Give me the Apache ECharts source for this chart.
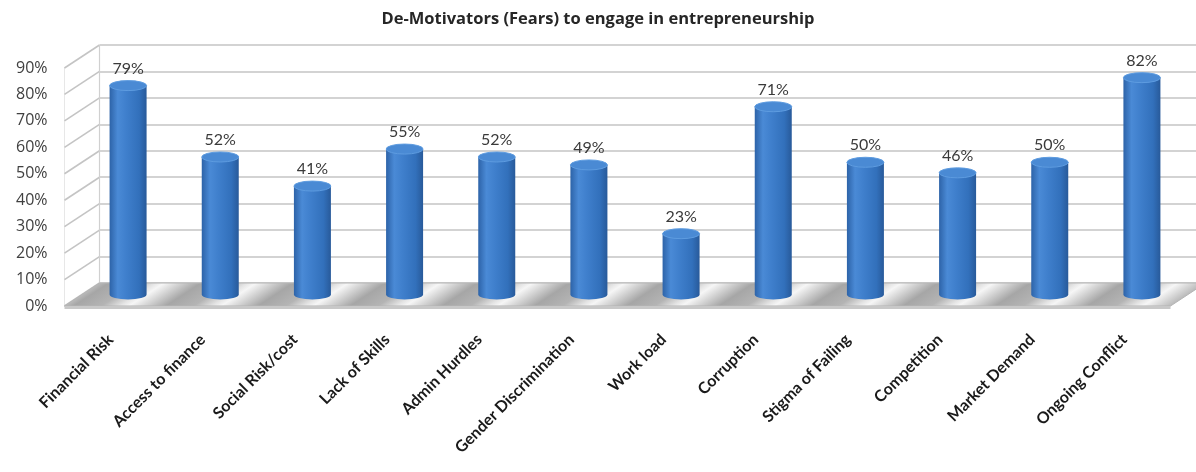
<!DOCTYPE html>
<html>
<head>
<meta charset="utf-8">
<script src="https://cdn.jsdelivr.net/npm/echarts@6/dist/echarts.min.js"></script>
<style>
  html, body { margin: 0; padding: 0; background: #ffffff; }
  #chart { width: 1196px; height: 472px; }
</style>
</head>
<body>
<div id="chart"></div>
<script>
// Survey results: share of respondents naming each fear
const categories = [
  'Financial Risk', 'Access to finance', 'Social Risk/cost', 'Lack of Skills',
  'Admin Hurdles', 'Gender Discrimination', 'Work load', 'Corruption',
  'Stigma of Failing', 'Competition', 'Market Demand', 'Ongoing Conflict'
];
const values = [79, 52, 41, 55, 52, 49, 23, 71, 50, 46, 50, 82];
const yMin = 0;
const yMax = 90;
const yStep = 10;
const titleText = 'De-Motivators (Fears) to engage in entrepreneurship';

// Pseudo-3D box: three parallel planes (front, middle, back)
const DEPTH_X = 35, DEPTH_Y = -23;
const PLOT_LEFT = 64.5, PLOT_WIDTH = 1106, FRONT_TOP = 68, PLOT_HEIGHT = 238;
const CYL_R = 18.5, CYL_RY = 5;
const FONT = 'Lato, "Open Sans", sans-serif';
const FONT_WIDE = '"Open Sans", Lato, sans-serif';

const chart = echarts.init(document.getElementById('chart'), null, { renderer: 'canvas' });

function plane(k) {
  return {
    left: PLOT_LEFT + DEPTH_X * k,
    top: FRONT_TOP + DEPTH_Y * k,
    width: PLOT_WIDTH,
    height: PLOT_HEIGHT,
    containLabel: false
  };
}

function valueAxis(gridIndex, extra) {
  return Object.assign({
    type: 'value', gridIndex, min: yMin, max: yMax, interval: yStep,
    axisLabel: { show: false }, axisTick: { show: false },
    axisLine: { show: false }, splitLine: { show: false }
  }, extra || {});
}

function catAxis(gridIndex, extra) {
  return Object.assign({
    type: 'category', gridIndex, data: categories,
    axisLabel: { show: false }, axisTick: { show: false },
    axisLine: { show: false }, splitLine: { show: false }
  }, extra || {});
}

// Floor stripes run along the depth direction, one light streak per category gap
function floorGradient(x0, y0, bandW) {
  const len = Math.hypot(DEPTH_X, DEPTH_Y);
  const nx = -DEPTH_Y / len, ny = DEPTH_X / len;
  const step = bandW * nx;               // projection of one band onto the normal
  const n = categories.length + 1;
  const L = step * n;
  const stops = [];
  for (let i = 0; i < n; i++) {
    const b = i / n, w = 1 / n;
    stops.push({ offset: b, color: '#f6f6f6' });
    stops.push({ offset: b + w * 0.12, color: '#dedede' });
    stops.push({ offset: b + w * 0.4, color: '#a6a6a6' });
    stops.push({ offset: b + w * 0.7, color: '#b4b4b4' });
    stops.push({ offset: b + w * 0.9, color: '#e4e4e4' });
  }
  stops.push({ offset: 1, color: '#f6f6f6' });
  return new echarts.graphic.LinearGradient(x0, y0, x0 + nx * L, y0 + ny * L, stops, true);
}

function renderBox(params, api) {
  const cs = params.coordSys;
  const gx = cs.x, gw = cs.width;
  const yf = v => api.coord([0, v])[1];
  const y0 = yf(yMin), yTop = yf(yMax);
  const children = [];

  // side wall
  children.push({
    type: 'polygon',
    shape: { points: [[gx, y0], [gx, yTop], [gx + DEPTH_X, yTop + DEPTH_Y], [gx + DEPTH_X, y0 + DEPTH_Y]] },
    style: { fill: '#ffffff', stroke: null }
  });
  for (let v = yMin; v <= yMax; v += yStep) {
    const y = yf(v);
    children.push({
      type: 'line',
      shape: { x1: gx, y1: y, x2: gx + DEPTH_X, y2: y + DEPTH_Y },
      style: { stroke: '#c4c4c4', lineWidth: 1.6 }
    });
  }
  children.push({
    type: 'line',
    shape: { x1: gx + DEPTH_X, y1: y0 + DEPTH_Y, x2: gx + DEPTH_X, y2: yTop + DEPTH_Y },
    style: { stroke: '#d0d0d0', lineWidth: 1.2 }
  });

  // floor
  const bandW = gw / categories.length;
  children.push({
    type: 'polygon',
    shape: { points: [[gx, y0], [gx + gw, y0], [gx + gw + DEPTH_X, y0 + DEPTH_Y], [gx + DEPTH_X, y0 + DEPTH_Y]] },
    style: { fill: floorGradient(gx + DEPTH_X / 2 - bandW * 0.3, y0 + DEPTH_Y / 2, bandW), stroke: '#b5b5b5', lineWidth: 1 }
  });
  // floor front face
  children.push({
    type: 'polygon',
    shape: { points: [[gx, y0], [gx + gw, y0], [gx + gw, y0 + 3], [gx, y0 + 3]] },
    style: { fill: '#c8c8c8' }
  });
  return { type: 'group', children };
}

function renderCylinder(params, api) {
  const idx = api.value(0);
  const val = api.value(1);
  const [x, yb] = api.coord([idx, yMin]);
  const yt = api.coord([idx, val])[1];
  const r = CYL_R, ry = CYL_RY;
  const body = `M${x - r},${yt} L${x - r},${yb} A${r},${ry} 0 0 0 ${x + r},${yb} L${x + r},${yt} Z`;
  const cap = `M${x - r},${yt} A${r},${ry} 0 1 0 ${x + r},${yt} A${r},${ry} 0 1 0 ${x - r},${yt} Z`;
  return {
    type: 'group',
    children: [
      {
        type: 'path',
        shape: { pathData: body },
        style: {
          fill: new echarts.graphic.LinearGradient(0, 0, 1, 0, [
            { offset: 0, color: '#2d63a8' },
            { offset: 0.22, color: '#4a8ad6' },
            { offset: 0.45, color: '#3f7fcc' },
            { offset: 0.8, color: '#3270bb' },
            { offset: 1, color: '#285a9a' }
          ])
        }
      },
      {
        type: 'path',
        shape: { pathData: cap },
        style: { fill: '#4a8ad4', stroke: '#5e9ce0', lineWidth: 1 }
      },
      {
        type: 'text',
        style: {
          text: val + '%', x: x, y: yt - ry - 12,
          align: 'center', verticalAlign: 'middle',
          fill: '#3a3a3a', font: '16px ' + FONT
        }
      }
    ]
  };
}

const option = {
  backgroundColor: '#ffffff',
  animation: false,
  title: {
    text: titleText, left: 'center', top: 6,
    textStyle: { fontFamily: FONT_WIDE, fontSize: 16.5, fontWeight: 'bold', color: '#262626' }
  },
  grid: [plane(0), plane(0.5), plane(1)],
  xAxis: [
    catAxis(0, {
      axisLabel: {
        show: true, rotate: 45, interval: 0, margin: 31,
        fontFamily: FONT, fontSize: 16, fontWeight: 'bold', color: '#1a1a1a'
      }
    }),
    catAxis(1),
    catAxis(2)
  ],
  yAxis: [
    valueAxis(0, {
      axisLabel: {
        show: true, margin: 17, fontFamily: FONT_WIDE, fontSize: 16, color: '#404040',
        formatter: v => v + '%'
      },
      axisLine: { show: true, lineStyle: { color: '#c4c4c4', width: 1.6 } }
    }),
    valueAxis(1),
    valueAxis(2, { splitLine: { show: true, lineStyle: { color: '#c4c4c4', width: 1.6 } } })
  ],
  series: [
    {
      type: 'custom', xAxisIndex: 0, yAxisIndex: 0, silent: true, z: 1,
      data: [[0, 0]], renderItem: renderBox, clip: false
    },
    {
      type: 'custom', xAxisIndex: 1, yAxisIndex: 1, silent: true, z: 3,
      data: values.map((v, i) => [i, v]), renderItem: renderCylinder, clip: false
    }
  ]
};

chart.setOption(option);
</script>
</body>
</html>
